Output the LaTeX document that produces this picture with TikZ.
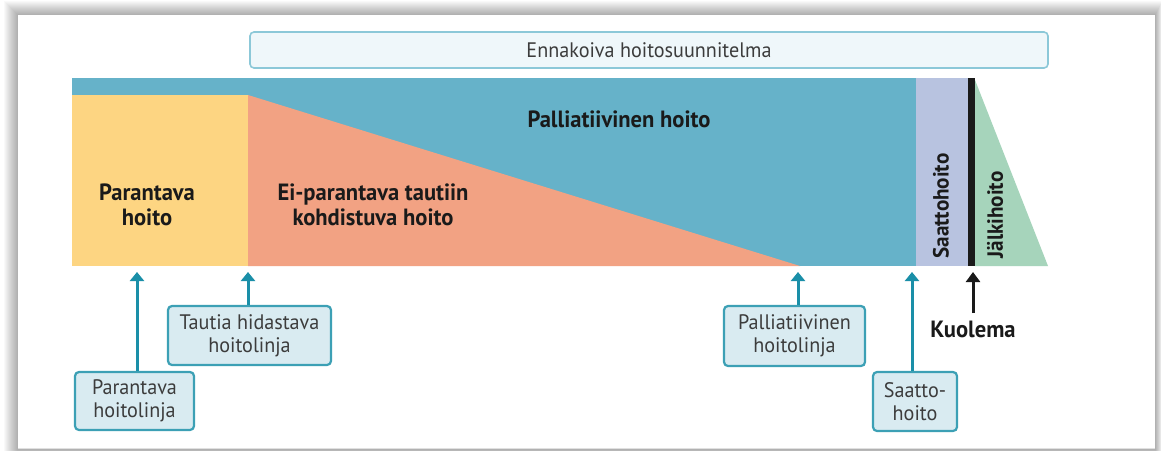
\documentclass[tikz,border=0pt]{standalone}
\usepackage{fontspec}
\setmainfont[FakeStretch=0.96]{PT Sans}
\usetikzlibrary{arrows.meta,positioning}
\definecolor{teal}{HTML}{66B2C9}
\definecolor{cure}{HTML}{FDD582}
\definecolor{salmon}{HTML}{F2A283}
\definecolor{lav}{HTML}{B8C3E0}
\definecolor{mint}{HTML}{A6D4BB}
\definecolor{linec}{HTML}{1A8FA8}
\definecolor{boxfill}{HTML}{D9EBF1}
\definecolor{planfill}{HTML}{EFF7FA}
\definecolor{planline}{HTML}{8CC8D8}
\definecolor{ink}{HTML}{1A1A1A}
\tikzset{
  lbl/.style={font=\fontsize{21}{23}\selectfont, text=ink!85, align=center},
  bold/.style={font=\fontsize{23.5}{25}\selectfont\bfseries, text=ink, align=center},
  infobox/.style={lbl, draw=linec!85, line width=2.2pt, fill=boxfill,
    rounded corners=4pt, inner xsep=4pt, inner ysep=3pt},
  uparrow/.style={draw=linec, line width=3pt,
    -{Triangle[width=14pt,length=9pt]}},
}
\begin{document}
\begin{tikzpicture}[x=1pt,y=-1pt]
\useasboundingbox (0,0) rectangle (1161,450);
\fill[white] (0,0) rectangle (1161,450);
% soft shadow round the card
\foreach \i in {1,...,14}
  \fill[black, opacity=0.022] (18-\i,15-\i) rectangle (1155+\i*0.5,452);
\fill[white] (18,15) rectangle (1155,448);
\draw[black!12, line width=0.8pt] (18,448.5) -- (1155,448.5);

% plan box along the top
\node[draw=planline, line width=1.6pt, fill=planfill, rounded corners=4pt,
  minimum width=798pt, minimum height=36pt, lbl, inner sep=0pt]
  (plan) at (649,50) {Ennakoiva hoitosuunnitelma};

% care phases
\fill[teal] (72,78) rectangle (916,266);
\fill[cure] (72,95) rectangle (248,266);
\fill[salmon] (248,95) -- (248,266) -- (800,266) -- cycle;
\fill[lav] (916,78) rectangle (968,266);
\fill[ink] (968,78) rectangle (975,266);
\fill[mint] (975,80) -- (1048,266) -- (975,266) -- cycle;

\node[bold] (pall) at (619,119) {Palliatiivinen hoito};
\node[bold] (par) at (147,205) {Parantava\\hoito};
\node[bold] (ei) at (373,205) {Ei-parantava tautiin\\kohdistuva hoito};
\node[bold, rotate=90, font=\fontsize{22}{24}\selectfont\bfseries] (saat) at (941,206) {Saattohoito};
\node[bold, rotate=90, font=\fontsize{22}{24}\selectfont\bfseries] (jalk) at (995,215) {Jälkihoito};

% points on the time line
\coordinate (p1) at (137,272);
\coordinate (p2) at (248,272);
\coordinate (p3) at (798,272);
\coordinate (p4) at (912,272);
\coordinate (p5) at (973,272);

% labelled turning points
\node[infobox, minimum width=119pt, minimum height=58pt] (b1) at (134.5,401) {Parantava\\hoitolinja};
\node[infobox, minimum width=163pt, minimum height=59pt] (b2) at (249.5,335.5) {Tautia hidastava\\hoitolinja};
\node[infobox, minimum width=141pt, minimum height=60pt] (b3) at (794.5,336) {Palliatiivinen\\hoitolinja};
\node[infobox, minimum width=84pt, minimum height=59pt] (b4) at (915,401.5) {Saatto-\\hoito};
\node[bold] (kuol) at (973,329) {Kuolema};

\draw[uparrow] (b1.north -| p1) -- (p1);
\draw[uparrow] (b2.north -| p2) -- (p2);
\draw[uparrow] (b3.north -| p3) -- (p3);
\draw[uparrow] (b4.north -| p4) -- (p4);
\draw[draw=ink, line width=3pt, -{Triangle[width=14pt,length=10pt]}] (973,313) -- (p5);
\end{tikzpicture}
\end{document}
